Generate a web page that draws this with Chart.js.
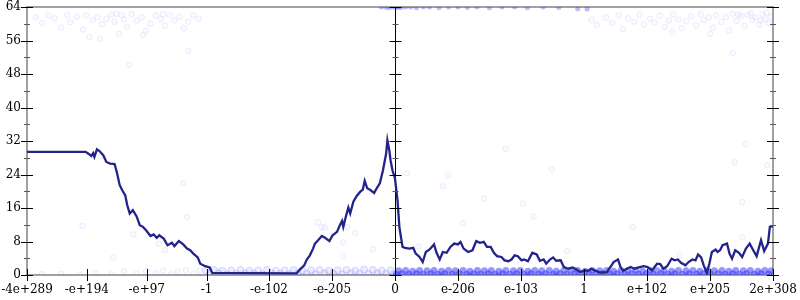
<!DOCTYPE html>
<html>
<head>
<meta charset="utf-8">
<script src="https://cdn.jsdelivr.net/npm/chart.js@4.4.1/dist/chart.umd.min.js"></script>
<style>
  html, body { margin: 0; padding: 0; background: #fff; }
  #wrap { width: 800px; height: 300px; }
</style>
</head>
<body>
<div id="wrap"><canvas id="chart"></canvas></div>
<script>
// x axis is in "tick units": one major tick on the right half = 1
const xTicks = [-5.84, -4.89, -3.94, -2.99, -2.0, -1.0, 0, 1, 2, 3, 4, 5, 6];
const xTickLabels = ['-4e+289', '-e+194', '-e+97', '-1', '-e-102', '-e-205', '0',
  'e-206', 'e-103', '1', 'e+102', 'e+205', '2e+308'];
const yTicks = [0, 8, 16, 24, 32, 40, 48, 56, 64];

// running curve
const lineX = [
  -5.84, -4.91, -4.86, -4.82, -4.79, -4.77, -4.73, -4.69, -4.63, -4.58,
  -4.52, -4.45, -4.41, -4.37, -4.33, -4.28, -4.25, -4.21, -4.16, -4.10,
  -4.05, -4.00, -3.95, -3.88, -3.83, -3.78, -3.74, -3.67, -3.61, -3.54,
  -3.50, -3.43, -3.36, -3.30, -3.25, -3.20, -3.13, -3.09, -3.01, -2.94, -2.90,
  -1.56, -1.51, -1.44, -1.40, -1.35, -1.30, -1.27, -1.22, -1.16, -1.11,
  -1.04, -0.99, -0.92, -0.88, -0.84, -0.82, -0.78, -0.74, -0.71, -0.66,
  -0.61, -0.55, -0.51, -0.48, -0.44, -0.39, -0.33, -0.29, -0.24, -0.19,
  -0.14, -0.12, -0.09, -0.07, -0.04, 0.00,
  0.04, 0.07, 0.12, 0.16, 0.23, 0.29, 0.33, 0.39, 0.44, 0.49,
  0.55, 0.62, 0.66, 0.71, 0.76, 0.82, 0.88, 0.94, 1.00, 1.04,
  1.09, 1.16, 1.23, 1.29, 1.35, 1.41, 1.46, 1.52, 1.57, 1.62,
  1.69, 1.74, 1.80, 1.85, 1.90, 1.95, 2.01, 2.05, 2.11,
  2.18, 2.25, 2.30, 2.36, 2.40, 2.46, 2.51, 2.56, 2.63, 2.68,
  2.75, 2.82, 2.88, 2.94, 3.01, 3.06, 3.12, 3.17, 3.24, 3.30,
  3.36, 3.42, 3.47, 3.54, 3.58, 3.62, 3.68, 3.74, 3.80, 3.87,
  3.95, 4.01, 4.08,
  4.16, 4.21, 4.26, 4.32, 4.39, 4.44, 4.49, 4.54, 4.61, 4.66,
  4.72, 4.77, 4.81, 4.86, 4.90, 4.95, 4.99, 5.03, 5.09, 5.12,
  5.16, 5.20, 5.27, 5.31, 5.35, 5.40, 5.46, 5.51, 5.57, 5.63,
  5.68, 5.74, 5.81, 5.86, 5.92, 5.95, 6.00
];
const lineY = [
  29.4, 29.4, 28.9, 28.4, 29.1, 28.2, 30.0, 29.6, 28.6, 27.0,
  26.6, 26.5, 24.3, 21.5, 20.3, 19.0, 16.7, 14.7, 15.5, 14.0,
  11.9, 11.5, 10.7, 9.3, 9.7, 8.9, 9.5, 8.7, 7.1, 7.7,
  6.9, 8.1, 7.3, 6.3, 5.9, 5.1, 4.2, 2.7, 2.1, 1.8, 0.5,
  0.4, 1.3, 2.3, 3.7, 4.7, 6.3, 7.5, 8.3, 9.3, 8.9,
  8.1, 9.5, 10.3, 11.7, 12.9, 11.5, 13.9, 16.1, 14.7, 17.5,
  18.8, 19.9, 20.4, 22.5, 20.7, 20.3, 19.6, 20.7, 21.9, 25.0,
  29.0, 32.2, 29.8, 27.4, 25.0, 23.1,
  17.9, 11.5, 6.7, 6.5, 6.3, 6.5, 5.1, 4.3, 3.1, 5.5,
  6.1, 7.3, 5.3, 3.7, 5.5, 5.3, 6.7, 7.5, 7.3, 7.9,
  6.3, 5.5, 5.9, 8.1, 7.7, 7.9, 6.7, 6.7, 5.3, 4.5,
  4.3, 3.5, 3.3, 3.7, 4.7, 4.5, 3.5, 3.7, 3.3,
  5.3, 4.9, 3.4, 3.7, 2.7, 3.7, 4.2, 3.4, 3.5, 1.9,
  1.5, 1.8, 1.3, 0.7, 1.1, 1.0, 1.5, 1.1, 0.7, 0.6,
  0.7, 1.9, 3.1, 3.7, 1.9, 1.0, 1.5, 1.9, 1.5, 1.8,
  2.1, 1.9, 1.1,
  2.7, 2.6, 1.5, 2.1, 3.9, 3.5, 3.7, 2.9, 2.3, 3.1,
  3.7, 3.5, 4.9, 4.2, 2.3, 0.5, 2.7, 5.5, 6.1, 5.5,
  5.9, 7.1, 7.5, 5.1, 3.9, 5.9, 5.3, 4.3, 6.3, 7.5,
  6.1, 4.5, 8.3, 5.7, 7.5, 11.5, 11.7
];

// individual samples (faint clouds)
const topLeftCloud = [
  [-5.7, 61.5], [-5.6, 60.2], [-5.5, 62.0], [-5.4, 61.3], [-5.3, 59.1], [-5.2, 62.1],
  [-5.15, 60.4], [-5.05, 61.7], [-4.95, 58.6], [-4.9, 62.0], [-4.8, 60.9], [-4.72, 61.6],
  [-4.65, 59.9], [-4.58, 61.2], [-4.5, 62.2], [-4.45, 60.5], [-4.38, 57.6], [-4.3, 61.0],
  [-4.25, 59.3], [-4.18, 62.3], [-4.1, 60.7], [-4.02, 61.5], [-3.95, 58.3], [-3.88, 60.0],
  [-3.8, 62.0], [-3.72, 61.1], [-3.65, 59.5], [-3.58, 62.1], [-3.5, 60.8], [-3.42, 61.7],
  [-3.35, 58.9], [-3.28, 60.5], [-3.2, 62.0], [-3.12, 61.2], [-4.22, 50.2], [-3.28, 53.5],
  [-4.68, 56.4], [-4.85, 56.8], [-4.0, 57.3], [-4.42, 62.4], [-4.34, 62.1], [-3.68, 62.3]
];
const topCentreCloud = [
  [-0.22, 64], [-0.15, 64], [-0.1, 63.8], [-0.05, 64], [0, 64], [0.03, 63.9], [0.06, 64],
  [0.1, 63.9], [0.17, 64], [0.25, 64], [0.34, 63.8], [0.45, 64], [0.55, 64], [0.7, 63.8],
  [0.85, 64], [1.0, 64], [1.15, 63.9], [1.3, 64], [1.5, 63.8], [1.7, 64], [1.9, 64],
  [2.1, 63.8], [2.35, 64], [2.6, 63.9], [2.9, 63.6], [3.05, 63.5]
];
const topRightCloud = [
  [3.12, 61.0], [3.2, 59.7], [3.35, 61.5], [3.45, 60.2], [3.55, 62.0], [3.62, 58.7],
  [3.7, 61.3], [3.8, 60.5], [3.88, 62.1], [3.95, 59.8], [4.05, 61.2], [4.12, 60.3],
  [4.2, 61.9], [4.28, 59.2], [4.35, 60.8], [4.42, 62.2], [4.5, 61.0], [4.55, 58.9],
  [4.62, 60.6], [4.7, 61.8], [4.78, 59.6], [4.85, 62.3], [4.9, 60.9], [4.98, 61.5],
  [5.05, 59.1], [5.1, 62.0], [5.18, 60.4], [5.25, 61.6], [5.3, 58.4], [5.36, 62.4],
  [5.42, 60.7], [5.5, 61.9], [5.55, 59.5], [5.6, 62.1], [5.67, 60.9], [5.72, 61.5],
  [5.78, 59.8], [5.83, 62.3], [5.88, 61.0], [5.93, 60.2], [5.97, 61.8], [5.36, 53.0],
  [4.4, 58.0], [5.0, 57.6], [5.65, 62.5], [5.9, 62.6], [5.45, 62.2], [5.8, 60.8]
];
const scatterCloud = [
  [-4.96, 11.7], [-3.36, 21.9], [-3.3, 13.8], [-4.47, 4.2], [-4.15, 9.7], [-3.65, 5.9],
  [-1.22, 12.6], [-1.16, 11.4], [-1.11, 11.4], [-0.82, 7.8], [-0.82, 4.5], [-0.35, 6.1],
  [-0.76, 11.4], [-0.63, 10.0], [0.19, 24.3], [0.84, 23.8], [0.76, 21.2], [1.76, 30.1],
  [2.49, 25.3], [1.41, 18.3], [2.03, 17.1], [2.2, 14.0], [1.08, 12.4], [3.77, 11.4],
  [2.74, 5.7], [5.56, 31.3], [5.39, 26.9], [5.91, 26.2], [5.51, 17.4], [5.51, 9.0],
  [4.52, 4.7], [0.37, 6.8], [-3.75, 7.5]
];
const bottomLeftCloud = [
  [-5.6, 0.2], [-5.3, 0.3], [-5.0, 0.1], [-4.75, 0.5], [-4.5, 0.2], [-4.3, 0.9],
  [-4.1, 0.3], [-3.95, 1.0], [-3.8, 0.4], [-3.68, 1.1], [-3.55, 0.2], [-3.45, 0.8],
  [-3.32, 1.2], [-3.2, 0.4], [-3.1, 1.0]
];
const bottomMidCloud = [
  [-3.0, 1.1], [-2.94, 0.3], [-2.87, 1.2], [-2.8, 0.4], [-2.74, 1.0], [-2.66, 0.2],
  [-2.6, 1.1], [-2.52, 0.3], [-2.45, 1.2], [-2.38, 0.4], [-2.31, 1.0], [-2.24, 0.3],
  [-2.17, 1.1], [-2.1, 0.2], [-2.03, 1.2], [-1.96, 0.4], [-1.89, 1.0], [-1.82, 0.3],
  [-1.75, 1.1], [-1.68, 0.2], [-1.61, 1.2], [-1.54, 0.4], [-1.47, 1.0], [-1.4, 0.3],
  [-1.33, 1.1], [-1.26, 0.2], [-1.19, 1.2], [-1.12, 0.4], [-1.05, 1.0], [-0.98, 0.3],
  [-0.91, 1.1], [-0.84, 0.2], [-0.77, 1.2], [-0.7, 0.4], [-0.63, 1.0], [-0.56, 0.3],
  [-0.49, 1.3], [-0.42, 0.2], [-0.35, 1.2], [-0.28, 0.4], [-0.21, 1.0], [-0.14, 0.3],
  [-0.07, 1.1], [-0.02, 0.2]
];
const bottomRightCloud = [
  [0.02, 0.2], [0.06, 1.0], [0.11, 0.3], [0.17, 1.1], [0.22, 0.2], [0.28, 0.9], [0.34, 0.3],
  [0.39, 1.1], [0.45, 0.2], [0.51, 1.0], [0.57, 0.3], [0.62, 1.1], [0.68, 0.2], [0.74, 0.9],
  [0.79, 0.3], [0.85, 1.1], [0.91, 0.2], [0.96, 1.0], [1.02, 0.3], [1.08, 1.1], [1.14, 0.2],
  [1.19, 0.9], [1.25, 0.3], [1.31, 1.1], [1.36, 0.2], [1.42, 1.0], [1.48, 0.3], [1.53, 1.1],
  [1.59, 0.2], [1.65, 0.9], [1.71, 0.3], [1.76, 1.1], [1.82, 0.2], [1.88, 1.0], [1.93, 0.3],
  [1.99, 1.1], [2.05, 0.2], [2.11, 0.9], [2.16, 0.3], [2.22, 1.1], [2.28, 0.2], [2.33, 1.0],
  [2.39, 0.3], [2.45, 1.1], [2.51, 0.2], [2.56, 0.9], [2.62, 0.3], [2.68, 1.1], [2.73, 0.2],
  [2.79, 1.0], [2.85, 0.3], [2.9, 1.1], [2.96, 0.2], [3.02, 0.9], [3.08, 0.3], [3.13, 1.1],
  [3.19, 0.2], [3.25, 1.0], [3.3, 0.3], [3.36, 1.1], [3.42, 0.2], [3.47, 0.9], [3.53, 0.3],
  [3.59, 1.1], [3.65, 0.2], [3.7, 1.0], [3.76, 0.3], [3.82, 1.1], [3.87, 0.2], [3.93, 0.9],
  [3.99, 0.3], [4.05, 1.1], [4.1, 0.2], [4.16, 1.0], [4.22, 0.3], [4.27, 1.1], [4.33, 0.2],
  [4.39, 0.9], [4.44, 0.3], [4.5, 1.1], [4.56, 0.2], [4.62, 1.0], [4.67, 0.3], [4.73, 1.1],
  [4.79, 0.2], [4.84, 0.9], [4.9, 0.3], [4.96, 1.1], [5.01, 0.2], [5.07, 1.0], [5.13, 0.3],
  [5.19, 1.1], [5.24, 0.2], [5.3, 0.9], [5.36, 0.3], [5.41, 1.1], [5.47, 0.2], [5.53, 1.0],
  [5.58, 0.3], [5.64, 1.1], [5.7, 0.2], [5.76, 0.9], [5.81, 0.3], [5.87, 1.1], [5.93, 0.2],
  [5.97, 1.0]
];

const pts = arr => arr.map(([x, y]) => ({ x, y }));
const font = { family: 'DejaVu Serif', size: 12 };

// gnuplot-like frame, zero axis and tick marks
const frame = {
  id: 'frame',
  beforeDatasetsDraw(chart) {
    const { ctx, chartArea: a, scales: { x } } = chart;
    ctx.save();
    ctx.strokeStyle = '#a0a0a0';
    ctx.lineWidth = 2;
    ctx.strokeRect(a.left, a.top, a.right - a.left, a.bottom - a.top);
    const x0 = Math.round(x.getPixelForValue(0)) + 0.5;
    ctx.strokeStyle = '#000';
    ctx.lineWidth = 1;
    ctx.beginPath();
    ctx.moveTo(x0, a.top);
    ctx.lineTo(x0, a.bottom);
    ctx.stroke();
    ctx.restore();
  },
  afterDatasetsDraw(chart) {
    const { ctx, chartArea: a, scales: { x, y } } = chart;
    const x0 = Math.round(x.getPixelForValue(0)) + 0.5;
    ctx.save();
    ctx.lineWidth = 1;
    ctx.strokeStyle = '#000';
    ctx.beginPath();
    yTicks.forEach(v => {
      const py = Math.round(y.getPixelForValue(v)) + 0.5;
      [a.left, x0, a.right].forEach(px => {
        ctx.moveTo(px - 6, py);
        ctx.lineTo(px + 6, py);
      });
    });
    xTicks.forEach(v => {
      const px = Math.round(x.getPixelForValue(v)) + 0.5;
      ctx.moveTo(px, a.bottom - 6);
      ctx.lineTo(px, a.bottom + 6);
    });
    ctx.stroke();
    ctx.strokeStyle = '#555';
    ctx.beginPath();
    for (let i = 0; i < yTicks.length - 1; i++) {
      const py = Math.round(y.getPixelForValue((yTicks[i] + yTicks[i + 1]) / 2)) + 0.5;
      [a.left, x0, a.right].forEach(px => {
        ctx.moveTo(px - 3, py);
        ctx.lineTo(px + 3, py);
      });
    }
    ctx.stroke();
    ctx.restore();
  }
};

const cloud = (arr, r, fill, edge) => ({
  data: pts(arr),
  showLine: false,
  pointRadius: r,
  pointBorderWidth: edge ? 1 : 0,
  pointBackgroundColor: fill,
  pointBorderColor: edge || fill
});

new Chart(document.getElementById('chart'), {
  type: 'line',
  data: {
    datasets: [{
      data: lineX.map((x, i) => ({ x, y: lineY[i] })),
      borderColor: '#23238c',
      borderWidth: 2.3,
      pointRadius: 0,
      tension: 0
    },
      cloud(bottomRightCloud, 3.5, 'rgba(25,25,255,0.45)'),
      cloud(topCentreCloud, 2.5, 'rgba(40,40,255,0.3)'),
      cloud(bottomMidCloud, 3.5, 'rgba(70,70,255,0.10)', 'rgba(70,70,255,0.18)'),
      cloud(topLeftCloud.concat(topRightCloud, scatterCloud, bottomLeftCloud), 2.8,
        'rgba(90,90,255,0.03)', 'rgba(90,90,255,0.10)')
    ]
  },
  options: {
    responsive: true,
    maintainAspectRatio: false,
    animation: false,
    layout: { padding: { top: 7, right: 27, left: 0, bottom: 0 } },
    plugins: { legend: { display: false }, tooltip: { enabled: false } },
    scales: {
      x: {
        type: 'linear',
        min: -5.84,
        max: 6,
        afterBuildTicks: s => { s.ticks = xTicks.map(v => ({ value: v })); },
        afterFit: s => { s.height = 25; s.paddingLeft = 0; s.paddingRight = 0; },
        grid: { display: false, drawTicks: false },
        border: { display: false },
        ticks: {
          autoSkip: false, maxRotation: 0, padding: 8, color: '#000', font,
          callback: v => xTickLabels[xTicks.indexOf(v)]
        }
      },
      y: {
        min: 0,
        max: 64,
        afterBuildTicks: s => { s.ticks = yTicks.map(v => ({ value: v })); },
        afterFit: s => { s.width = 27; s.paddingTop = 0; s.paddingBottom = 0; },
        grid: { display: false, drawTicks: false },
        border: { display: false },
        ticks: { padding: 6, color: '#000', font }
      }
    }
  },
  plugins: [frame]
});
</script>
</body>
</html>
